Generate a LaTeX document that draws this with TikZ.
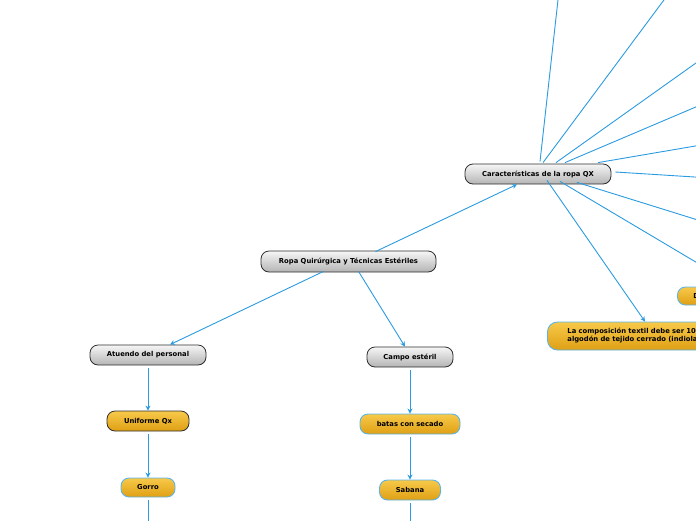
\documentclass[tikz,border=0pt]{standalone}
\usepackage{fontspec}
\setmainfont{DejaVu Sans}
\usetikzlibrary{arrows.meta}
\definecolor{lineblue}{HTML}{2B9BE0}
\definecolor{boxblue}{HTML}{5AB4EA}
\definecolor{orangetop}{HTML}{F7C94A}
\definecolor{orangebot}{HTML}{DFA014}
\definecolor{graytop}{HTML}{F6F6F6}
\definecolor{graybot}{HTML}{B4B4B4}
\definecolor{darkedge}{HTML}{2E2E2E}
\tikzset{
  graybox/.style={draw=darkedge, line width=0.8pt, rounded corners=8pt, top color=graytop, bottom color=graybot, minimum height=20pt, inner sep=0pt, font=\fontsize{6.8}{8}\selectfont\bfseries, text=black},
  orangebox/.style={draw=boxblue, line width=0.9pt, rounded corners=8pt, top color=orangetop, bottom color=orangebot, minimum height=20pt, inner sep=0pt, font=\fontsize{6.8}{8}\selectfont\bfseries, text=black},
  conn/.style={draw=lineblue, line width=0.9pt},
  arr/.style={conn, -{Stealth[length=5pt,width=5pt]}},
}
\begin{document}
\begin{tikzpicture}[x=1pt,y=-1pt]
\useasboundingbox (0,0) rectangle (696,520);
\clip (0,0) rectangle (696,520);
% nodes
\node[graybox, minimum width=175pt, minimum height=21pt] (ropa) at (348.5,261.5) {Ropa Quirúrgica y Técnicas Estériles};
\node[graybox, minimum width=146pt] (kar) at (538,174) {Características de la ropa QX};
\node[graybox, minimum width=116pt] (atu) at (148,355) {Atuendo del personal};
\node[graybox, minimum width=86pt] (campo) at (410,357) {Campo estéril};
\node[orangebox, draw=darkedge, line width=0.8pt, minimum width=82pt] (uni) at (148,421) {Uniforme Qx};
\node[orangebox, minimum width=54pt, minimum height=19pt] (gorro) at (148,487.5) {Gorro};
\node[orangebox, minimum width=100pt] (batas) at (410,424) {batas con secado};
\node[orangebox, minimum width=61pt] (sabana) at (410,490) {Sabana};
\node[orangebox, anchor=west, minimum height=28pt, rounded corners=10pt, text width=220pt, align=left, inner xsep=0pt] (comp) at (547,336) {\hspace*{20pt}La composición textil debe ser 100\%\\\hspace*{20pt}algodón de tejido cerrado (indiolable)};
\node[orangebox, anchor=west, minimum height=18pt, text width=60pt, align=left] (dnode) at (677,296) {\hspace*{16pt}D};
% free ends
\coordinate (e1) at (560.2,-20);
\coordinate (e2) at (678.8,-20);
\coordinate (e3) at (720,45.9);
\coordinate (e4) at (720,96.7);
\coordinate (e5) at (720,141.8);
\coordinate (e6) at (720,178.6);
\coordinate (e7) at (720,226.9);
\coordinate (e8) at (720,276.4);
\coordinate (e9) at (148,530);
\coordinate (e10) at (410,530);
% connectors
\draw[arr] ([xshift=27pt,yshift=-1pt]ropa.north) -- ([xshift=-21pt]kar.south);
\draw[arr] ([xshift=-25pt,yshift=1pt]ropa.south) -- ([xshift=22pt]atu.north);
\draw[arr] ([xshift=10pt,yshift=1pt]ropa.south) -- ([xshift=-5pt]campo.north);
\draw[arr, shorten <=3pt] (atu.south) -- (uni.north);
\draw[arr, shorten <=3pt] (uni.south) -- (gorro.north);
\draw[conn, shorten <=3pt] (gorro.south) -- (e9);
\draw[arr, shorten <=3pt] (campo.south) -- (batas.north);
\draw[arr, shorten <=3pt] (batas.south) -- (sabana.north);
\draw[conn, shorten <=3pt] (sabana.south) -- (e10);
\draw[conn] ([xshift=2pt,yshift=2pt]kar.north) -- (e1);
\draw[conn] ([xshift=5pt,yshift=1pt]kar.north) -- (e2);
\draw[conn] ([xshift=18pt,yshift=1pt]kar.north) -- (e3);
\draw[conn] ([xshift=27pt,yshift=1pt]kar.north) -- (e4);
\draw[conn] ([xshift=60pt,yshift=1pt]kar.north) -- (e5);
\draw[conn] ([xshift=4pt,yshift=2pt]kar.east) -- (e6);
\draw[conn] ([xshift=39pt,yshift=2pt]kar.south) -- (e7);
\draw[conn] ([xshift=22pt,yshift=3pt]kar.south) -- (e8);
\draw[arr] ([xshift=9pt,yshift=4pt]kar.south) -- ([xshift=98pt]comp.north west);
\end{tikzpicture}
\end{document}
